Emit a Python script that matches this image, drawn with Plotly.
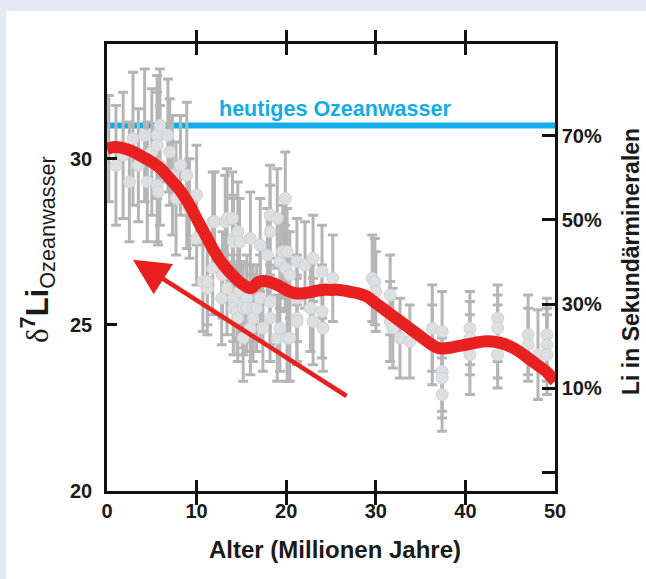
import plotly.graph_objects as go

# ---------------- data ----------------
age = [0.2, 1.0, 1.8, 2.5, 2.9, 3.5, 4.2, 4.5, 5.0, 5.6, 5.6, 5.6, 5.7, 5.9, 5.9,
       6.8, 7.0, 7.3, 7.7, 8.2, 8.9, 9.2, 10.0,
       10.0, 10.7, 11.2, 11.2, 11.8, 11.8, 12.0, 12.8, 12.9, 13.2, 13.4, 13.4, 14.0,
       14.1, 14.1, 14.1, 14.1, 14.5, 14.6, 14.6, 14.8, 14.8, 15.1, 15.2, 15.2, 15.6,
       15.6, 16.0, 16.0, 16.3, 16.3, 16.7, 17.1, 17.1, 17.4, 17.9, 18.2, 18.2, 18.2,
       18.2, 19.0, 19.0, 19.3, 19.3, 19.6, 19.9, 19.9, 20.1, 20.1, 20.4, 20.4, 21.2,
       21.2, 21.2, 21.2, 22.1, 22.7, 23.0, 23.0, 24.0, 24.0, 24.1, 25.2,
       29.6, 29.9, 30.0, 31.6, 31.6, 31.9, 32.7, 33.8, 36.3, 36.3, 37.4, 37.4, 37.4,
       37.4, 40.5, 40.5, 40.5, 43.6, 43.6, 43.6, 43.6, 47.0, 47.0, 48.1, 49.1, 49.1,
       49.1]
d7li = [30.3, 29.8, 30.1, 29.3, 30.6, 29.8, 30.7, 29.3, 30.2, 30.7, 30.4, 29.2, 29.0, 31.0, 29.8,
        30.7, 30.2, 29.5, 28.8, 29.8, 29.5, 28.5, 28.9,
        27.6, 26.3, 26.1, 26.3, 28.1, 26.7, 28.1, 25.8, 26.5, 28.1, 28.2, 26.1, 28.2,
        27.6, 27.5, 25.8, 25.5, 25.4, 27.8, 25.2, 27.5, 26.0, 25.6, 25.5, 24.6, 25.8,
        25.5, 27.6, 24.9, 25.5, 25.2, 25.5, 27.4, 25.8, 24.9, 27.1, 28.3, 27.8, 25.7,
        25.2, 28.2, 24.6, 26.9, 24.9, 27.2, 28.8, 26.7, 27.2, 24.6, 26.5, 24.6, 26.9,
        25.8, 25.2, 25.1, 26.8, 25.5, 27.0, 25.1, 26.6, 25.4, 24.9, 26.4,
        26.4, 26.3, 26.0, 25.9, 25.1, 24.9, 24.6, 24.5, 24.9, 24.4, 24.8, 23.6, 23.4,
        22.9, 24.9, 24.6, 24.1, 25.2, 24.9, 24.5, 24.1, 24.7, 24.4, 24.1, 24.7, 24.4,
        24.1]
err = [1.6, 1.8, 1.9, 1.8, 2.0, 1.7, 2.0, 1.8, 1.9, 1.8, 1.6, 1.7, 1.6, 1.7, 1.8,
       1.7, 1.6, 1.8, 1.7, 1.5, 2.2, 1.5, 1.5,
       1.4, 1.5, 1.4, 1.3, 1.5, 1.4, 1.5, 1.4, 1.3, 1.4, 1.5, 1.4, 1.4,
       1.3, 1.3, 1.3, 1.4, 1.3, 1.5, 1.3, 1.3, 1.4, 1.3, 1.4, 1.3, 1.3,
       1.3, 1.4, 1.4, 1.3, 1.3, 1.3, 1.4, 1.3, 1.3, 1.4, 1.5, 1.4, 1.3,
       1.3, 1.5, 1.3, 1.4, 1.3, 1.4, 1.4, 1.3, 1.3, 1.3, 1.3, 1.3, 1.3,
       1.3, 1.3, 1.3, 1.3, 1.3, 1.3, 1.3, 1.4, 1.4, 1.3, 1.3,
       1.3, 1.3, 1.2, 1.2, 1.2, 1.2, 1.2, 1.1, 1.3, 1.2, 1.2, 1.2, 1.2,
       1.1, 1.1, 1.1, 1.2, 1.0, 1.0, 1.1, 1.0, 1.2, 1.1, 1.35, 1.1, 1.1,
       1.2]

curve_age = list(range(0, 51))
curve_d7li = [30.3, 30.35, 30.3, 30.2, 30.05, 29.9, 29.7, 29.4, 29.1, 28.7,
              28.2, 27.7, 27.2, 26.8, 26.5, 26.25, 26.1, 26.3, 26.3, 26.2,
              26.05, 25.95, 25.95, 26.0, 26.05, 26.05, 26.05, 26.0, 25.95, 25.85,
              25.65, 25.45, 25.25, 25.05, 24.85, 24.65, 24.45, 24.3, 24.3, 24.35,
              24.4, 24.45, 24.5, 24.5, 24.45, 24.35, 24.2, 24.0, 23.8, 23.6, 23.3]

modern_seawater = 31.0
modern_label = "heutiges Ozeanwasser"

arrow_start = (26.9, 22.83)
arrow_end = (2.9, 26.96)

x_ticks = [0, 10, 20, 30, 40, 50]
y_ticks = [20, 25, 30]
pct_ticks = [-10, 10, 30, 50, 70]
pct_labels = ["", "10%", "30%", "50%", "70%"]

# ---------------- figure ----------------
FONT = "Liberation Sans, Arial, sans-serif"
RED = "#e8201f"
CYAN = "#12ade8"
BG = "#e3eaf4"

fig = go.Figure()

fig.add_trace(go.Scatter(
    x=[0, 50], y=[modern_seawater, modern_seawater], mode="lines",
    line=dict(color=CYAN, width=6), hoverinfo="skip", showlegend=False))

fig.add_trace(go.Scatter(
    x=age, y=d7li, mode="markers",
    marker=dict(size=12, color="#dedfe0", line=dict(color="#d2d2d2", width=1)),
    error_y=dict(type="data", array=err, color="#b5b5b5", thickness=3, width=5),
    hoverinfo="skip", showlegend=False))

fig.add_trace(go.Scatter(
    x=curve_age, y=curve_d7li, mode="lines",
    line=dict(color=RED, width=12, shape="spline", smoothing=1.0),
    hoverinfo="skip", showlegend=False))

fig.add_trace(go.Scatter(
    x=[25], y=[40], yaxis="y2", mode="markers",
    marker=dict(opacity=0), hoverinfo="skip", showlegend=False))

def px_x(p):
    return (p - 107) / 448

def px_y(p):
    return (491 - p) / 447

fig.add_shape(type="rect", xref="paper", yref="paper",
              x0=px_x(6), x1=px_x(700), y0=px_y(640), y1=px_y(11),
              fillcolor="white", line=dict(width=0), layer="below")

fig.add_annotation(x=arrow_end[0], y=arrow_end[1], ax=arrow_start[0], ay=arrow_start[1],
                   xref="x", yref="y", axref="x", ayref="y", text="",
                   showarrow=True, arrowhead=2, arrowsize=1.6, arrowwidth=4.5,
                   arrowcolor=RED)

fig.add_annotation(x=25.4, y=31.48, xref="x", yref="y", text="<b>" + modern_label + "</b>",
                   showarrow=False, font=dict(family=FONT, size=21.5, color=CYAN),
                   xanchor="center", yanchor="middle")

fig.add_annotation(x=px_x(38), y=px_y(250), xref="paper", yref="paper",
                   text="<span style=\"font-family:'Liberation Serif'\">δ</span><sup><b>7</b></sup><b>Li</b><sub>Ozeanwasser</sub>",
                   showarrow=False, textangle=-90, font=dict(family=FONT, size=31, color="#1a1a1a"),
                   xanchor="center", yanchor="middle")

fig.add_annotation(x=px_x(631), y=px_y(262), xref="paper", yref="paper",
                   text="<b>Li in Sekundärmineralen</b>",
                   showarrow=False, textangle=-90, font=dict(family=FONT, size=23, color="#1a1a1a"),
                   xanchor="center", yanchor="middle")

fig.add_annotation(x=px_x(335), y=px_y(549), xref="paper", yref="paper",
                   text="<b>Alter (Millionen Jahre)</b>",
                   showarrow=False, font=dict(family=FONT, size=24, color="#1a1a1a"),
                   xanchor="center", yanchor="middle")

tickfont = dict(family=FONT, size=20, color="#1a1a1a", weight="bold")

fig.update_layout(
    width=646, height=579,
    margin=dict(l=107, r=91, t=44, b=88),
    paper_bgcolor=BG, plot_bgcolor="white",
    showlegend=False,
    xaxis=dict(range=[0, 50], tickvals=x_ticks, ticks="inside", ticklen=11, tickwidth=2.5,
               tickcolor="#111", showline=True, linecolor="#111", linewidth=2.5,
               mirror="allticks", showgrid=False, zeroline=False, tickfont=tickfont),
    yaxis=dict(range=[20, 33.45], tickvals=y_ticks, ticks="inside", ticklen=10, tickwidth=2.5,
               tickcolor="#111", showline=True, linecolor="#111", linewidth=2.5,
               mirror=True, showgrid=False, zeroline=False, tickfont=tickfont,
               ticklabelstandoff=8),
    yaxis2=dict(range=[-14.52, 91.9], overlaying="y", side="right", tickvals=pct_ticks,
                ticktext=pct_labels, ticks="inside", ticklen=13, tickwidth=2.5,
                tickcolor="#111", showline=True, linecolor="#111", linewidth=2.5,
                showgrid=False, zeroline=False, tickfont=tickfont),
)

fig.write_html("out.html", config={"displayModeBar": False},
               post_script="document.body.style.margin='0px';document.body.style.background='" + BG + "';")
